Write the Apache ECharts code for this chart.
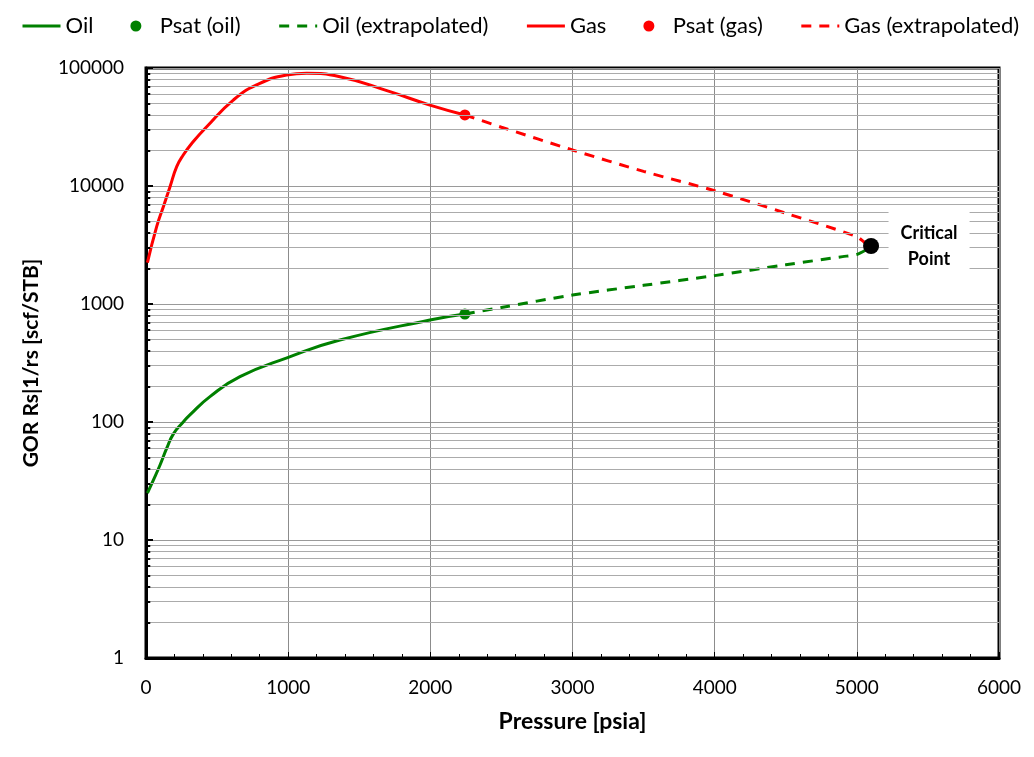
<!DOCTYPE html>
<html>
<head>
<meta charset="utf-8">
<script src="https://cdn.jsdelivr.net/npm/echarts@6/dist/echarts.min.js"></script>
<style>html,body{margin:0;padding:0;background:#fff}#c{width:1034px;height:757px}</style>
</head>
<body>
<div id="c"></div>
<script>
// ---- data ----
const oilPressure = [10, 51, 98, 146, 192, 262, 309, 450, 661, 1001, 1364, 1997, 2243];
const oilGor      = [25, 32, 43, 60, 79, 100, 115, 164, 242, 353, 495, 731, 822];
const oilExtPressure = [2243, 2500, 3000, 3500, 4000, 4500, 4900, 5000, 5060, 5100];
const oilExtGor      = [822, 935, 1190, 1440, 1740, 2150, 2520, 2630, 2850, 3100];
const gasPressure = [10, 75, 122, 169, 216, 262, 333, 427, 614, 778, 989, 1130, 1364, 1716, 1997, 2243];
const gasGor      = [2240, 4520, 6680, 9860, 14600, 18300, 23800, 31800, 53500, 71800, 87200, 90200, 84400, 63000, 48500, 40000];
const gasExtPressure = [2243, 2500, 3000, 3500, 4000, 4500, 5000, 5056, 5100];
const gasExtGor      = [40000, 31500, 20200, 13300, 9120, 5880, 3720, 3310, 3100];
const psatOil = [2243, 822];
const psatGas = [2243, 40000];
const criticalPoint = [5100, 3100];
const minorGridValues = [2,3,4,5,6,7,8,9,20,30,40,50,60,70,80,90,200,300,400,500,600,700,800,900,
  2000,3000,4000,5000,6000,7000,8000,9000,20000,30000,40000,50000,60000,70000,80000,90000];
const legendNames = ['Oil', 'Psat (oil)', 'Oil (extrapolated)', 'Gas', 'Psat (gas)', 'Gas (extrapolated)'];

const zip = (a, b) => a.map((v, i) => [v, b[i]]);
const GREEN = '#008000', RED = '#ff0000';
const FONT = 'Lato';
const hideSym = { opacity: 0 };

const chart = echarts.init(document.getElementById('c'));
chart.setOption({
  animation: false,
  backgroundColor: '#fff',
  textStyle: { fontFamily: FONT },
  legend: {
    top: 10, left: 16,
    itemWidth: 38, itemHeight: 11, itemGap: 37,
    textStyle: { fontSize: 22, color: '#000', fontFamily: FONT },
    data: [
      { name: legendNames[0], itemStyle: hideSym, lineStyle: { width: 3 } },
      { name: legendNames[1], icon: 'circle' },
      { name: legendNames[2], itemStyle: hideSym, lineStyle: { width: 3, type: [10, 8] } },
      { name: legendNames[3], itemStyle: hideSym, lineStyle: { width: 3 } },
      { name: legendNames[4], icon: 'circle' },
      { name: legendNames[5], itemStyle: hideSym, lineStyle: { width: 3, type: [10, 8] } }
    ]
  },
  grid: { left: 146, right: 35, top: 68, bottom: 99, show: true, borderColor: '#000', borderWidth: 3 },
  xAxis: {
    type: 'value', min: 0, max: 6000, interval: 1000,
    name: 'Pressure [psia]', nameLocation: 'middle', nameGap: 52,
    nameTextStyle: { fontSize: 23, fontWeight: 'bold', color: '#000', fontFamily: FONT },
    axisLine: { lineStyle: { color: '#000', width: 3 } },
    axisTick: { inside: true, length: 6, lineStyle: { color: '#000', width: 1 } },
    minorTick: { show: true, splitNumber: 5, length: 4, lineStyle: { color: '#000', width: 1 } },
    axisLabel: { fontSize: 19, color: '#000', margin: 20, fontFamily: FONT, formatter: v => String(v) },
    splitLine: { show: true, lineStyle: { color: '#8c8c8c', width: 1 } }
  },
  yAxis: {
    type: 'log', logBase: 10, min: 1, max: 100000,
    name: 'GOR Rs|1/rs [scf/STB]', nameLocation: 'middle', nameGap: 104,
    nameTextStyle: { fontSize: 21, fontWeight: 'bold', color: '#000', fontFamily: FONT },
    axisLine: { lineStyle: { color: '#000', width: 3 } },
    axisTick: { inside: true, length: 7, lineStyle: { color: '#000', width: 2 } },
    axisLabel: { fontSize: 19, color: '#000', margin: 22, fontFamily: FONT, formatter: v => String(v) },
    splitLine: { show: true, lineStyle: { color: '#9a9a9a', width: 1 } }
  },
  series: [
    {
      name: 'minor grid', type: 'line', data: [], silent: true,
      markLine: {
        silent: true, symbol: 'none', label: { show: false },
        lineStyle: { color: '#ababab', width: 1, type: 'solid' },
        data: minorGridValues.map(v => ({ yAxis: v }))
      }
    },
    {
      name: 'minor ticks', type: 'line', data: [], silent: true, z: 5,
      markLine: {
        silent: true, symbol: 'none', label: { show: false },
        lineStyle: { color: '#000', width: 2, type: 'solid' },
        data: minorGridValues.map(v => [{ coord: [0, v] }, { coord: [30, v] }])
      }
    },
    {
      name: legendNames[0], type: 'line', smooth: 0.5, symbol: 'none', z: 3,
      data: zip(oilPressure, oilGor),
      lineStyle: { color: GREEN, width: 3 }, itemStyle: { color: GREEN }
    },
    {
      name: legendNames[1], type: 'scatter', symbolSize: 11, z: 4,
      data: [psatOil], itemStyle: { color: GREEN, opacity: 1 }
    },
    {
      name: legendNames[2], type: 'line', smooth: 0.3, symbol: 'none', z: 3,
      data: zip(oilExtPressure, oilExtGor),
      lineStyle: { color: GREEN, width: 3, type: [10, 8] }, itemStyle: { color: GREEN }
    },
    {
      name: legendNames[3], type: 'line', smooth: 0.5, symbol: 'none', z: 3,
      data: zip(gasPressure, gasGor),
      lineStyle: { color: RED, width: 3 }, itemStyle: { color: RED }
    },
    {
      name: legendNames[4], type: 'scatter', symbolSize: 11, z: 4,
      data: [psatGas], itemStyle: { color: RED, opacity: 1 }
    },
    {
      name: legendNames[5], type: 'line', smooth: 0.3, symbol: 'none', z: 3,
      data: zip(gasExtPressure, gasExtGor),
      lineStyle: { color: RED, width: 3, type: [10, 8] }, itemStyle: { color: RED }
    },
    {
      name: 'Critical Point', type: 'scatter', symbolSize: 16, z: 6,
      data: [criticalPoint], itemStyle: { color: '#000', opacity: 1 },
      label: {
        show: true, position: 'right', distance: 5, offset: [45, 0],
        formatter: 'Critical\nPoint', align: 'center',
        fontSize: 18, fontWeight: 'bold', color: '#000', fontFamily: FONT, lineHeight: 26,
        backgroundColor: '#fff', padding: [8, 12]
      }
    }
  ]
});
</script>
</body>
</html>
